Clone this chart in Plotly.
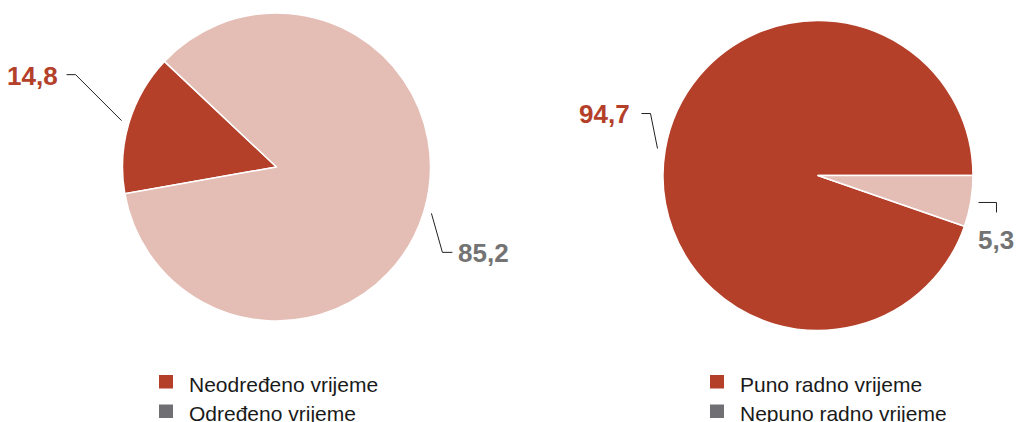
import math
import plotly.graph_objects as go

# ---------------- data ----------------
left_labels = ["Neodređeno vrijeme", "Određeno vrijeme"]
left_values = [14.8, 85.2]
right_labels = ["Puno radno vrijeme", "Nepuno radno vrijeme"]
right_values = [94.7, 5.3]

# ---------------- styles / layout ----------------
W, H = 1017, 422
slice_colors = ["#B4402A", "#E4BDB5"]
legend_colors = ["#B4402A", "#707074"]
label_colors = ["#B4402A", "#737373"]
FONT = "Liberation Sans, Arial, sans-serif"

pies = [
    # start: math angle (deg, CCW from 3 o'clock) where the first slice begins;
    # slices proceed counterclockwise
    dict(labels=left_labels, values=left_values, cx=276.5, cy=167, r=154, start=136.7,
         # per-slice leader: seg1 offset, seg2 offset, text offset, text anchor
         leaders=[((-46, -46), (-9, 0), (-7, 1), "right"),
                  ((11, 39), (10, 0), (4, 1), "left")],
         legend_x=159),
    dict(labels=right_labels, values=right_values, cx=818, cy=175.5, r=155, start=0,
         leaders=[((-7, -35), (-9, 0), (-10, 0), "right"),
                  ((18, 0), (0, 10), (0, 28), "center")],
         legend_x=710),
]


def px(x, y):
    """page pixel -> paper coords"""
    return x / W, 1 - y / H


fig = go.Figure()
shapes = []
annotations = []

for p in pies:
    cx, cy, r = p["cx"], p["cy"], p["r"]
    total = sum(p["values"])
    first_span = 360 * p["values"][0] / total
    # plotly: rotation clockwise from 12 o'clock; draw clockwise starting from
    # the far edge of the first slice
    rot = 90 - (p["start"] + first_span)
    fig.add_trace(go.Pie(
        labels=p["labels"], values=p["values"], sort=False,
        direction="clockwise", rotation=rot,
        marker=dict(colors=slice_colors, line=dict(color="white", width=1.5)),
        textinfo="none", showlegend=False, hole=0,
        domain=dict(x=[(cx - r) / W, (cx + r) / W],
                    y=[1 - (cy + r) / H, 1 - (cy - r) / H]),
    ))

    ang = p["start"]
    for i, v in enumerate(p["values"]):
        span = 360 * v / total
        mid = math.radians(ang + span / 2)
        ang += span
        R = r * 1.05
        x0, y0 = cx + R * math.cos(mid), cy - R * math.sin(mid)
        (d1x, d1y), (d2x, d2y), (tx, ty), anchor = p["leaders"][i]
        x1, y1 = x0 + d1x, y0 + d1y
        x2, y2 = x1 + d2x, y1 + d2y
        a, b = px(x0, y0)
        c, d = px(x1, y1)
        e, f = px(x2, y2)
        shapes.append(dict(type="path", xref="paper", yref="paper",
                           path=f"M {a},{b} L {c},{d} L {e},{f}",
                           line=dict(color="#222222", width=1)))
        lx, ly = px(x2 + tx, y2 + ty)
        annotations.append(dict(
            x=lx, y=ly, xref="paper", yref="paper", showarrow=False,
            text=f"{v:.1f}".replace(".", ","), xanchor=anchor, yanchor="middle",
            font=dict(family=FONT, size=26, color=label_colors[i], weight="bold")))

    # custom legend
    for i, lab in enumerate(p["labels"]):
        top = 375 + 29.5 * i
        a, b = px(p["legend_x"], top)
        c, d = px(p["legend_x"] + 14, top + 13.5)
        shapes.append(dict(type="rect", xref="paper", yref="paper",
                           x0=a, y0=d, x1=c, y1=b,
                           fillcolor=legend_colors[i], line=dict(width=0)))
        tx, ty = px(p["legend_x"] + 28, top + 9)
        annotations.append(dict(
            x=tx, y=ty, xref="paper", yref="paper", showarrow=False,
            text=lab, xanchor="left", yanchor="middle",
            font=dict(family=FONT, size=21, color="#1a1a1a")))

fig.update_layout(
    width=W, height=H, margin=dict(l=0, r=0, t=0, b=0),
    paper_bgcolor="white", plot_bgcolor="white",
    shapes=shapes, annotations=annotations,
)

fig.write_html(
    "out.html",
    config={"displayModeBar": False},
    post_script="document.body.style.margin='0';document.body.style.overflow='hidden';",
)
